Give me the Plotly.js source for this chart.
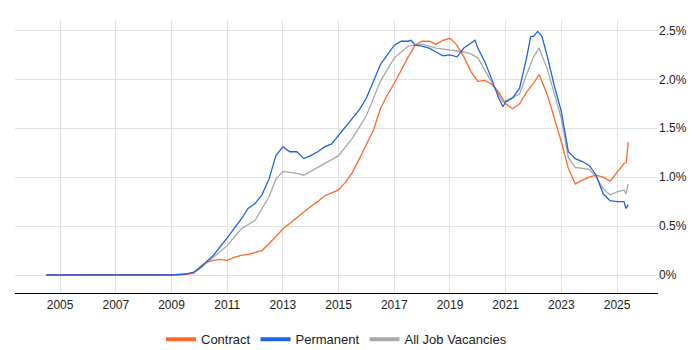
<!DOCTYPE html>
<html>
<head>
<meta charset="utf-8">
<script src="https://cdn.plot.ly/plotly-3.0.1.min.js"></script>
<style>html,body{margin:0;padding:0;background:#fff}#chart{width:700px;height:350px}</style>
</head>
<body>
<div id="chart"></div>
<script>
const contractX = [2004.5,2005,2006,2007,2008,2009,2009.5,2009.8,2010,2010.25,2010.5,2010.75,2011,2011.25,2011.5,2011.75,2012,2012.25,2012.5,2012.75,2013,2013.25,2013.5,2013.75,2014,2014.25,2014.5,2014.75,2015,2015.25,2015.5,2015.75,2016,2016.25,2016.5,2016.75,2017,2017.25,2017.5,2017.75,2018,2018.25,2018.5,2018.75,2019,2019.25,2019.5,2019.75,2020,2020.25,2020.5,2020.75,2021,2021.25,2021.5,2021.75,2022,2022.2,2022.5,2022.75,2023,2023.25,2023.5,2023.75,2024,2024.25,2024.5,2024.75,2025,2025.25,2025.33,2025.4];
const contractY = [0,0,0,0,0,0,0.005,0.02,0.08,0.13,0.15,0.16,0.15,0.18,0.2,0.21,0.23,0.25,0.32,0.4,0.47,0.53,0.59,0.64,0.7,0.75,0.81,0.84,0.87,0.95,1.05,1.19,1.33,1.48,1.7,1.84,1.96,2.1,2.23,2.35,2.39,2.39,2.36,2.4,2.42,2.35,2.23,2.08,1.98,1.99,1.95,1.87,1.75,1.7,1.75,1.87,1.96,2.05,1.84,1.6,1.36,1.09,0.93,0.97,1.0,1.02,1.0,0.96,1.05,1.14,1.15,1.36];
const permX = [2004.5,2005,2006,2007,2008,2009,2009.5,2009.8,2010,2010.5,2011,2011.25,2011.5,2011.75,2012,2012.25,2012.5,2012.75,2013,2013.25,2013.5,2013.75,2014,2014.25,2014.5,2014.75,2015,2015.25,2015.5,2015.75,2016,2016.25,2016.5,2016.75,2017,2017.25,2017.5,2017.6,2017.75,2018,2018.25,2018.5,2018.75,2019,2019.25,2019.5,2019.75,2019.9,2020,2020.25,2020.5,2020.75,2020.9,2021,2021.25,2021.5,2021.75,2021.9,2022,2022.15,2022.3,2022.5,2022.75,2023,2023.25,2023.5,2023.75,2024,2024.25,2024.5,2024.75,2025,2025.25,2025.32,2025.4];
const permY = [0,0,0,0,0,0,0.01,0.03,0.07,0.2,0.38,0.47,0.57,0.68,0.73,0.82,0.98,1.22,1.31,1.26,1.26,1.19,1.22,1.26,1.31,1.34,1.43,1.52,1.6,1.69,1.81,1.98,2.15,2.25,2.35,2.39,2.39,2.4,2.35,2.34,2.32,2.28,2.24,2.25,2.23,2.32,2.37,2.4,2.32,2.18,2.0,1.81,1.72,1.77,1.81,1.91,2.22,2.44,2.44,2.49,2.44,2.23,1.93,1.67,1.26,1.19,1.16,1.12,1.02,0.83,0.76,0.75,0.75,0.68,0.72];
const allX = [2004.5,2005,2006,2007,2008,2009,2009.5,2009.8,2010,2010.5,2011,2011.5,2012,2012.5,2012.75,2013,2013.25,2013.5,2013.75,2014,2014.5,2015,2015.5,2016,2016.5,2017,2017.5,2018,2018.5,2019,2019.5,2019.75,2020,2020.5,2020.9,2021,2021.5,2021.75,2022,2022.2,2022.5,2023,2023.25,2023.5,2023.75,2024,2024.25,2024.5,2024.75,2025,2025.25,2025.32,2025.4];
const allY = [0,0,0,0,0,0,0.008,0.025,0.06,0.18,0.3,0.47,0.56,0.8,0.98,1.06,1.05,1.04,1.02,1.06,1.14,1.22,1.4,1.63,1.98,2.22,2.34,2.36,2.32,2.3,2.28,2.26,2.22,1.97,1.77,1.78,1.85,2.05,2.23,2.32,2.1,1.6,1.2,1.1,1.09,1.08,1.0,0.88,0.82,0.85,0.87,0.83,0.93];
const seriesNames = ['Contract','Permanent','All Job Vacancies'];
const seriesColors = ['#FF6A2A','#1F63E6','#A8A8A8'];
const xTickVals = [2005,2007,2009,2011,2013,2015,2017,2019,2021,2023,2025];
const yTickVals = [0,0.5,1.0,1.5,2.0,2.5];
const yTickText = ['0%','0.5%','1.0%','1.5%','2.0%','2.5%'];

const xs=[contractX,permX,allX], ys=[contractY,permY,allY];
const order=[2,0,1];
const traces=[];
order.forEach(i=>{
  traces.push({x:xs[i],y:ys[i],type:'scatter',mode:'lines',name:seriesNames[i],showlegend:false,
    line:{color:seriesColors[i],width:1.3},hoverinfo:'skip'});
});
[0,1,2].forEach(i=>{
  traces.push({x:[null],y:[null],type:'scatter',mode:'lines',name:seriesNames[i],showlegend:true,
    line:{color:seriesColors[i],width:4}});
});
const font={family:'"Liberation Sans Narrow","Liberation Sans",Arial,sans-serif',size:12,color:'#222'};
Plotly.newPlot('chart',traces,{
  width:700,height:350,
  margin:{l:15,r:42,t:20,b:57,autoexpand:false},
  paper_bgcolor:'#fff',plot_bgcolor:'#fff',
  font:font,
  xaxis:{range:[2003.38,2026.47],tickvals:xTickVals,ticktext:xTickVals.map(String),
    showgrid:true,gridcolor:'#e2e2e2',gridwidth:1,zeroline:false,
    showline:true,linecolor:'#000',linewidth:1.2,ticks:'',tickfont:font},
  yaxis:{range:[-0.184,2.607],side:'right',tickvals:yTickVals,ticktext:yTickText,
    showgrid:true,gridcolor:'#e2e2e2',gridwidth:1,zeroline:false,showline:false,ticks:'',tickfont:font},
  legend:{orientation:'h',x:0.5,xanchor:'center',y:-0.115,yanchor:'top',font:{family:font.family,size:13,color:'#222'},itemwidth:30,traceorder:'normal'},
  showlegend:true
},{displayModeBar:false,staticPlot:true});
</script>
</body>
</html>
